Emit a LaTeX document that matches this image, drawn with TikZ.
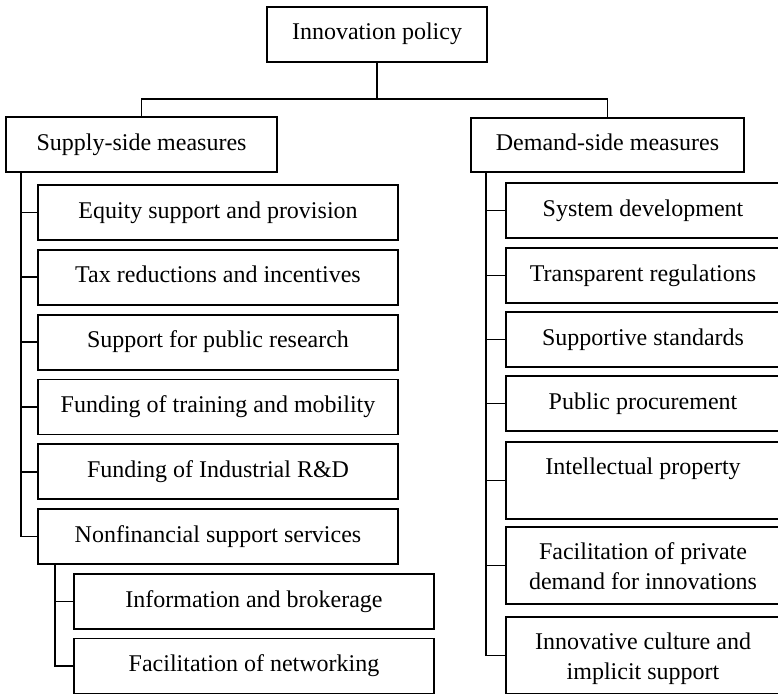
\documentclass[tikz,border=0pt]{standalone}
\usepackage{fontspec}
\setmainfont{Liberation Serif}
\newcommand\topstrut{\rule{0pt}{24.5pt}}
\newcommand\botstrut{\rule[-6.5pt]{0pt}{6.5pt}}
\begin{document}
\begin{tikzpicture}[x=1pt,y=-1pt,
  box/.style={draw, line width=1.8pt, inner sep=0pt, align=center,
    font=\fontsize{24}{30.5}\selectfont},
  onel/.style={box, execute at begin node={\rule[-6pt]{0pt}{23pt}}},
  lbox/.style={onel, minimum width=360pt, minimum height=55pt},
  rbox/.style={onel, minimum width=274pt, minimum height=55pt},
  rtall/.style={box, minimum width=274pt, minimum height=77pt},
  conn/.style={line width=1.8pt}]
\useasboundingbox (0,0) rectangle (778,693);
% top level
\node[onel, minimum width=220pt, minimum height=55pt] (top) at (377,34.5) {Innovation policy};
\node[onel, minimum width=271pt, minimum height=55pt] (supply) at (141.5,144.5) {Supply-side measures};
\node[onel, minimum width=273pt, minimum height=54pt] (demand) at (607.5,145) {Demand-side measures};
\coordinate (j) at (377,99);
\draw[conn] (top.south) -- (j);
\draw[conn] (j) -| (supply.north);
\draw[conn] (j) -| (demand.north);
% supply side
\node[lbox] (s1) at (218,212.5) {Equity support and provision};
\node[lbox] (s2) at (218,277.3) {Tax reductions and incentives};
\node[lbox] (s3) at (218,342.1) {Support for public research};
\node[lbox] (s4) at (218,406.9) {Funding of training and mobility};
\node[lbox] (s5) at (218,471.7) {Funding of Industrial R\&D};
\node[lbox] (s6) at (218,536.5) {Nonfinancial support services};
\node[lbox] (n1) at (254,601.5) {Information and brokerage};
\node[lbox] (n2) at (254,666) {Facilitation of networking};
\coordinate (ls) at (21,172);
\draw[conn] (ls) |- (s6.west);
\foreach \b in {s1,s2,s3,s4,s5}{\draw[conn] (ls |- \b.west) -- (\b.west);}
\coordinate (ns) at (55,564);
\draw[conn] (ns) |- (n2.west);
\draw[conn] (ns |- n1.west) -- (n1.west);
% demand side
\node[rbox] (d1) at (643,210.5) {System development};
\node[rbox] (d2) at (643,275.5) {Transparent regulations};
\node[rbox] (d3) at (643,339.5) {Supportive standards};
\node[rbox] (d4) at (643,403.5) {Public procurement};
\node[rtall] (d5) at (643,480.5) {\topstrut Intellectual property\\\botstrut};
\node[rtall] (d6) at (643,565.5) {\topstrut Facilitation of private\\demand for innovations\botstrut};
\node[rtall] (d7) at (643,655.5) {\topstrut Innovative culture and\\implicit support\botstrut};
\coordinate (rs) at (486,172);
\draw[conn] (rs) |- (d7.west);
\foreach \b in {d1,d2,d3,d4,d5,d6}{\draw[conn] (rs |- \b.west) -- (\b.west);}
\end{tikzpicture}
\end{document}
